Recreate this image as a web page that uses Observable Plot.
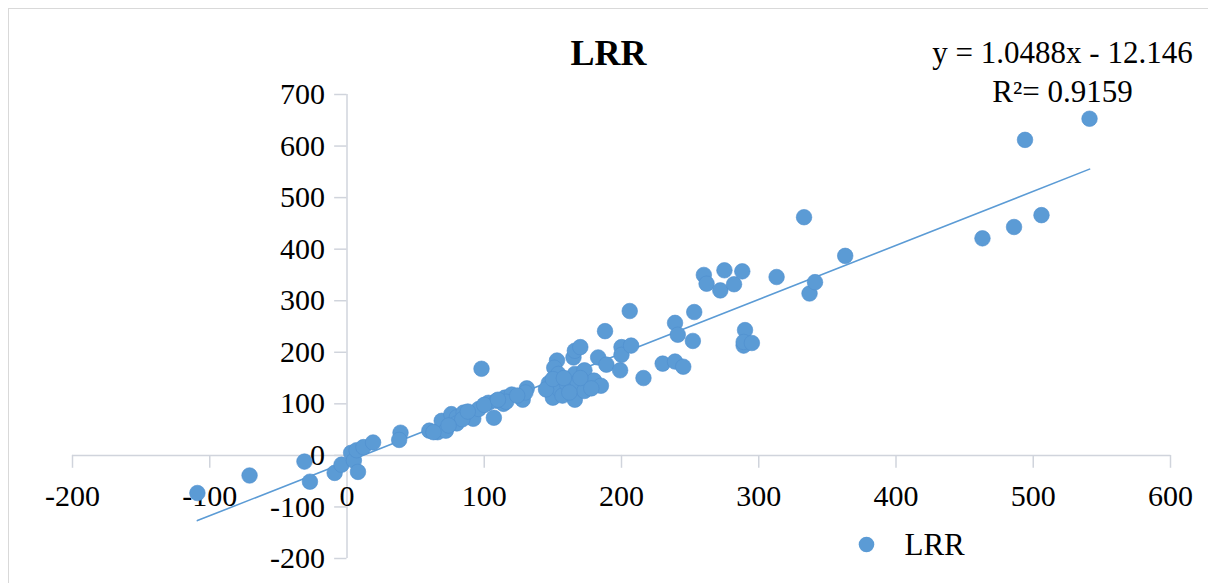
<!DOCTYPE html>
<html>
<head>
<meta charset="utf-8">
<script src="https://cdn.jsdelivr.net/npm/d3@7"></script>
<script src="https://cdn.jsdelivr.net/npm/@observablehq/plot@0.6"></script>
<style>
  html, body { margin: 0; padding: 0; background: #fff; }
  #wrap { position: relative; width: 1208px; height: 583px; overflow: hidden; }
  #border { position: absolute; left: 8px; top: 8px; width: 1230px; height: 600px; border: 1px solid #d9d9d9; box-sizing: border-box; pointer-events: none; }
  svg { position: absolute; left: 0; top: 0; overflow: visible; }
</style>
</head>
<body>
<div id="wrap"><div id="border"></div></div>
<script>
const xVals = [-109, -71, -31, -27, -9, -4, 3, 5, 8, 7, 12, 19, 39, 38, 60, 66, 69, 69, 72, 76, 80, 80, 85, 90, 92, 96, 98, 103, 107, 109, 115, 114, 120, 128, 131, 130, 147, 149, 150, 153, 151, 154, 155, 157, 160, 165, 166, 170, 166, 173, 168, 175, 166, 173, 180, 183, 188, 189, 185, 199, 200, 200, 207, 206, 216, 230, 239, 245, 239, 241, 253, 252, 260, 262, 272, 275, 282, 288, 290, 289, 289, 295, 313, 333, 337, 341, 363, 463, 486, 506, 494, 541, 116, 124, 145, 150, 158, 162, 170, 178, 84, 74, 63, 88, 100, 110];
const yVals = [-73, -39, -12, -51, -34, -18, 5, -10, -32, 10, 16, 25, 44, 30, 48, 45, 53, 67, 48, 80, 74, 62, 83, 78, 71, 90, 168, 102, 73, 106, 112, 100, 118, 108, 130, 122, 140, 122, 112, 184, 170, 158, 127, 116, 140, 190, 203, 210, 158, 165, 142, 140, 108, 125, 145, 190, 241, 176, 135, 165, 210, 195, 213, 280, 150, 178, 182, 172, 257, 234, 278, 222, 350, 333, 320, 359, 332, 357, 243, 213, 220, 218, 346, 462, 314, 336, 387, 421, 443, 466, 612, 653, 104, 116, 128, 148, 150, 122, 150, 130, 70, 58, 45, 85, 98, 108];
const xTicks = [-200, -100, 0, 100, 200, 300, 400, 500, 600];
const yTicks = [-200, -100, 0, 100, 200, 300, 400, 500, 600, 700];
const seriesName = "LRR";
const titleText = "LRR";
const eqText = "y = 1.0488x - 12.146";
const r2Text = "R²= 0.9159";
const slope = 1.0488, intercept = -12.146;

const data = xVals.map((x, i) => ({x, y: yVals[i]}));
const xMin = d3.min(xVals), xMax = d3.max(xVals);
const trend = [{x: xMin, y: slope * xMin + intercept}, {x: xMax, y: slope * xMax + intercept}];

const blue = "#5b9bd5";
const axisColor = "#d0d4dc";
const font = "'Liberation Serif', 'Times New Roman', serif";

const chart = Plot.plot({
  width: 1208,
  height: 583,
  marginLeft: 72,
  marginRight: 38,
  marginTop: 94,
  marginBottom: 25,
  style: {fontFamily: font, background: "transparent"},
  x: {domain: [-200, 600], axis: null},
  y: {domain: [-200, 700], axis: null},
  marks: [
    // axes crossing at zero
    Plot.ruleY([0], {x1: -200, x2: 600, stroke: axisColor, strokeWidth: 1.5}),
    Plot.ruleX([0], {y1: -200, y2: 700, stroke: axisColor, strokeWidth: 1.5}),
    Plot.ruleX(xTicks, {x: d => d, y1: 0, y2: -25, stroke: axisColor, strokeWidth: 1.5}),
    Plot.ruleY(yTicks, {y: d => d, x1: 0, x2: -9, stroke: axisColor, strokeWidth: 1.5}),
    Plot.text(xTicks, {x: d => d, y: 0, text: d => String(d), dy: 41, fontSize: 30, fill: "#000", textAnchor: "middle"}),
    Plot.text(yTicks, {x: 0, y: d => d, text: d => String(d), dx: -22, fontSize: 30, fill: "#000", textAnchor: "end"}),
    // data
    Plot.line(trend, {x: "x", y: "y", stroke: blue, strokeWidth: 1.6}),
    Plot.dot(data, {x: "x", y: "y", r: 7.8, fill: blue, stroke: "#4f8fcf", strokeWidth: 0.6}),
    // title & equation
    Plot.text([titleText], {frameAnchor: "top", lineAnchor: "middle", dx: -13, dy: -41, fontSize: 36, fontWeight: "bold", fill: "#000"}),
    Plot.text([eqText], {frameAnchor: "top-right", lineAnchor: "middle", dx: -108, dy: -41, fontSize: 31, fill: "#000", textAnchor: "middle"}),
    Plot.text([r2Text], {frameAnchor: "top-right", lineAnchor: "middle", dx: -108, dy: -2, fontSize: 31, fill: "#000", textAnchor: "middle"}),
    // legend
    Plot.dot([seriesName], {frameAnchor: "bottom", dx: 245, dy: -14, r: 7.8, fill: blue}),
    Plot.text([seriesName], {frameAnchor: "bottom", lineAnchor: "middle", dx: 283, dy: -13, fontSize: 31, fill: "#000", textAnchor: "start"})
  ]
});
document.getElementById("wrap").appendChild(chart);
</script>
</body>
</html>
